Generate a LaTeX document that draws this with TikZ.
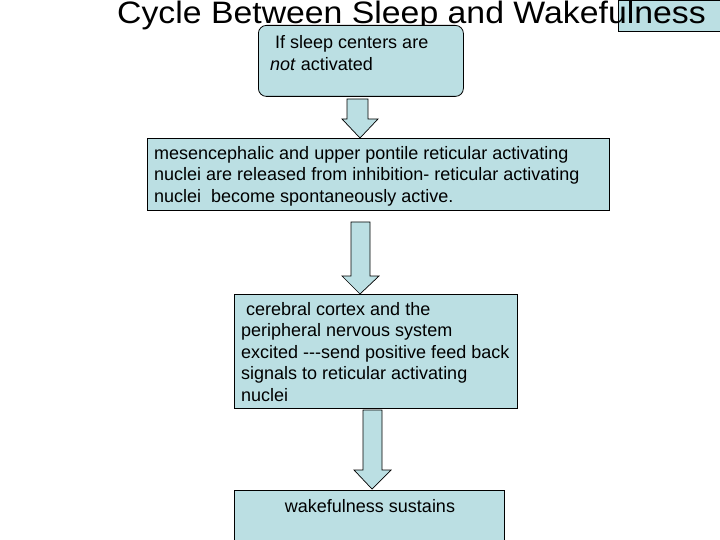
\documentclass[tikz,border=0pt]{standalone}
\usepackage{fontspec}
\setmainfont{Liberation Sans}
\begin{document}
\begin{tikzpicture}[x=1pt,y=-1pt,
  boxfill/.style={fill=boxblue,draw=black,line width=0.8pt},
  flowbox/.style={boxfill,rectangle,inner sep=0pt,anchor=north west},
  bodytext/.style={anchor=base west,inner sep=0pt,align=left,
    font=\fontsize{18}{21.5}\selectfont},
  blockarrow/.style={boxfill,line width=0.7pt,line join=miter}]
\definecolor{boxblue}{RGB}{187,223,227}
\useasboundingbox (0,0) rectangle (720,540);
% small box at top right
\node[flowbox,minimum width=103pt,minimum height=31pt] (tag) at (618,0) {};
% title
\node[anchor=base west,inner sep=0pt,font=\fontsize{31}{36}\selectfont] (title) at (117,23.5)
  {\scalebox{1.09}[1]{Cycle Between Sleep and Wakefulness}};
% box 1
\node[flowbox,rounded corners=8pt,minimum width=205pt,minimum height=71pt] (b1) at (258,25) {};
\node[bodytext] (t1) at (270,70.5) {\ If sleep centers are\\\textit{not} activated};
% box 2
\node[flowbox,minimum width=462pt,minimum height=72pt] (b2) at (147,138) {};
\node[bodytext] (t2) at (154,202.5) {mesencephalic and upper pontile reticular activating\\nuclei are released from inhibition- reticular activating\\nuclei\ \ become spontaneously active.};
% box 3
\node[flowbox,minimum width=283pt,minimum height=114pt] (b3) at (234,294) {};
\node[bodytext] (t3) at (241,401) {\ cerebral cortex and the\\peripheral nervous system\\excited -{}-{}-send positive feed back\\signals to reticular activating\\nuclei};
% box 4
\node[flowbox,minimum width=270pt,minimum height=60pt] (b4) at (234,490) {};
\node[bodytext,anchor=base] (t4) at (370,512) {wakefulness sustains};
% block arrows
\draw[blockarrow] (347,99) -- (368,99) -- (368,119) -- (378,119) -- (360,138) -- (342,119) -- (347,119) -- cycle;
\draw[blockarrow] (351,222) -- (370,222) -- (370,276) -- (379,276) -- (360,294) -- (342,276) -- (351,276) -- cycle;
\draw[blockarrow] (363,410) -- (382,410) -- (382,470) -- (391,470) -- (372,489) -- (354,470) -- (363,470) -- cycle;
\end{tikzpicture}
\end{document}
